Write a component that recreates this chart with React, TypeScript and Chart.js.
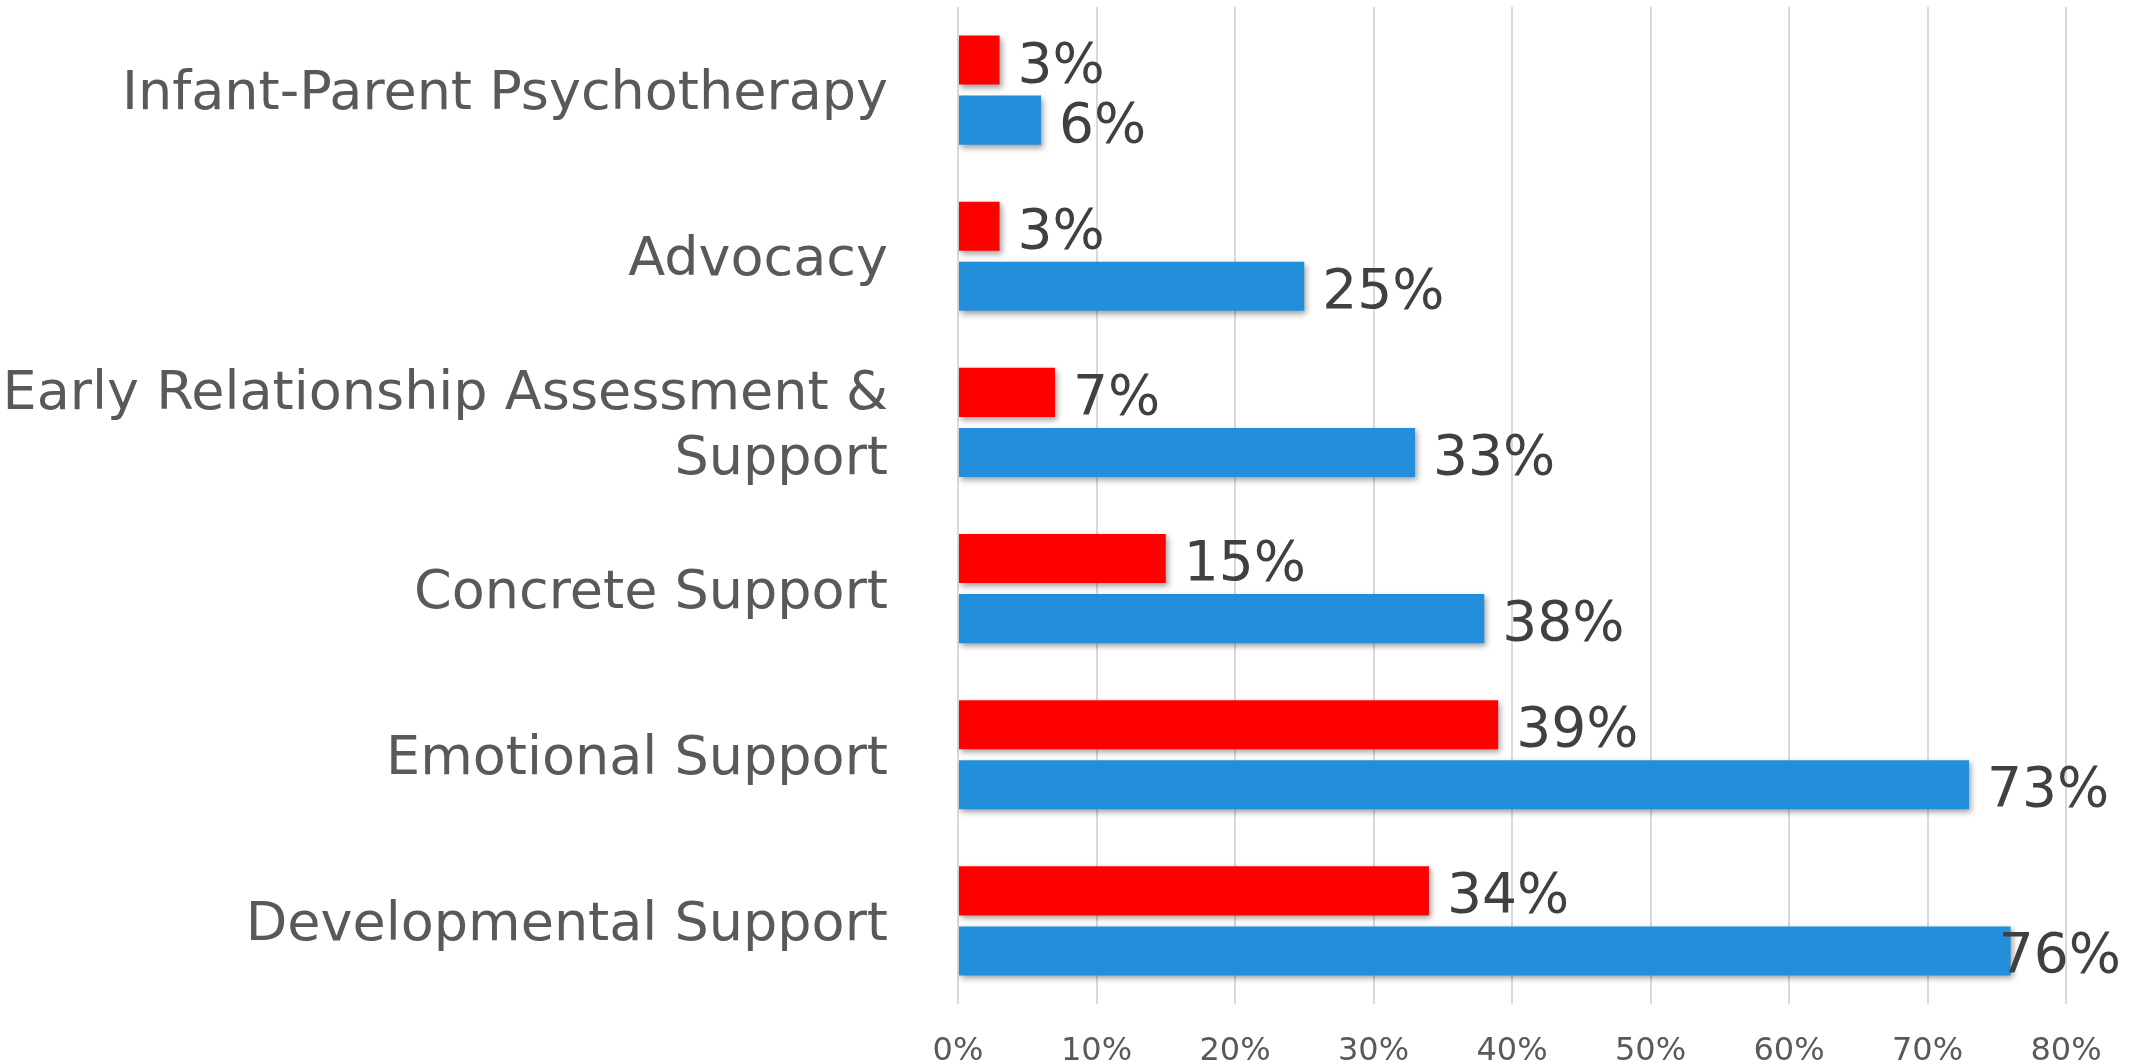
import React, { useEffect, useRef } from "react";
import { Chart, registerables } from "chart.js";

Chart.register(...registerables);

const categories: (string | string[])[] = [
  "Infant-Parent Psychotherapy",
  "Advocacy",
  ["Early Relationship Assessment &", "Support"],
  "Concrete Support",
  "Emotional Support",
  "Developmental Support",
];
const redValues = [3, 3, 7, 15, 39, 34];
const blueValues = [6, 25, 33, 38, 73, 76];
const xTickMax = 80;
const xTickStep = 10;

const RED = "#FF0000";
const BLUE = "#238FDA";
const FONT = "'DejaVu Sans', Verdana, sans-serif";

const labelPlugin = {
  id: "shadowAndLabels",
  afterLayout(chart: any) {
    const y = chart.scales.y;
    if (y && !y.__patched) {
      const orig = y.drawLabels;
      y.drawLabels = function (area: any) {
        const c = this.ctx;
        c.save();
        c.translate(0, 5);
        orig.call(this, area);
        c.restore();
      };
      y.__patched = true;
    }
  },
  beforeDatasetsDraw(chart: any) {
    const ctx = chart.ctx;
    ctx.save();
    ctx.shadowColor = "rgba(0,0,0,0.38)";
    ctx.shadowBlur = 6;
    ctx.shadowOffsetX = 2;
    ctx.shadowOffsetY = 3;
  },
  afterDatasetsDraw(chart: any) {
    const ctx = chart.ctx;
    ctx.restore();
    ctx.save();
    ctx.font = `55px ${FONT}`;
    ctx.fillStyle = "#404040";
    ctx.textAlign = "left";
    ctx.textBaseline = "alphabetic";
    const W = chart.width;
    chart.data.datasets.forEach((ds: any, di: number) => {
      const meta = chart.getDatasetMeta(di);
      meta.data.forEach((bar: any, i: number) => {
        const text = `${ds.data[i]}%`;
        const w = ctx.measureText(text).width;
        let x = bar.x + 18;
        if (x + w > W - 15) x = W - 15 - w;
        ctx.fillText(text, x, bar.y + 21.5);
      });
    });
    ctx.restore();
  },
};

export default function App() {
  const ref = useRef<HTMLCanvasElement | null>(null);
  useEffect(() => {
    if (!ref.current) return;
    const chart = new Chart(ref.current, {
      type: "bar",
      data: {
        labels: categories as any,
        datasets: [
          {
            label: "Series 1",
            data: redValues,
            backgroundColor: RED,
            borderWidth: 0,
            categoryPercentage: 0.723,
            barPercentage: 0.817,
          },
          {
            label: "Series 2",
            data: blueValues,
            backgroundColor: BLUE,
            borderWidth: 0,
            categoryPercentage: 0.723,
            barPercentage: 0.817,
          },
        ],
      },
      options: {
        indexAxis: "y",
        animation: false,
        responsive: false,
        maintainAspectRatio: false,
        layout: { padding: { top: 7, right: 70, bottom: 0, left: 0 } },
        plugins: {
          legend: { display: false },
          tooltip: { enabled: false },
          title: { display: false },
        },
        scales: {
          x: {
            min: 0,
            max: xTickMax,
            ticks: {
              stepSize: xTickStep,
              callback: (v: any) => `${v}%`,
              color: "#595959",
              font: { family: FONT, size: 32 },
              padding: 28,
              maxRotation: 0,
              autoSkip: false,
            },
            grid: { color: "#D9D9D9", lineWidth: 2, drawTicks: false },
            border: { display: false },
            afterFit: (s: any) => {
              s.height = 59;
              s.paddingLeft = 0;
              s.paddingRight = 0;
              s.paddingTop = 0;
              s.paddingBottom = 0;
            },
          },
          y: {
            ticks: {
              color: "#595959",
              font: { family: FONT, size: 54 },
              padding: 70,
              autoSkip: false,
            },
            grid: { display: false, drawTicks: false },
            border: { display: false },
            afterFit: (s: any) => {
              s.width = 958;
              s.paddingLeft = 0;
              s.paddingRight = 0;
              s.paddingTop = 0;
              s.paddingBottom = 0;
            },
          },
        },
      },
      plugins: [labelPlugin],
    });
    return () => chart.destroy();
  }, []);
  return (
    <div style={{ position: "fixed", left: 0, top: 0, width: 2136, height: 1063, background: "#fff" }}>
      <canvas ref={ref} width={2136} height={1063} style={{ width: 2136, height: 1063, display: "block" }} />
    </div>
  );
}
